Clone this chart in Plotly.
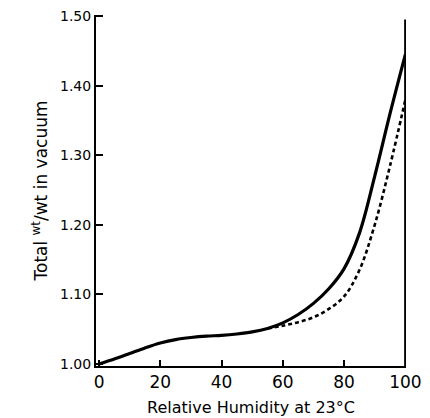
import plotly.graph_objects as go

# Relative humidity (%)
rh_solid = [0, 5, 10, 15, 20, 25, 30, 35, 40, 45, 50, 55, 60, 65, 70, 75, 80, 85, 90, 95, 100]
wt_solid = [1.000, 1.007, 1.015, 1.023, 1.030, 1.035, 1.038, 1.040, 1.041, 1.043, 1.046, 1.051,
            1.059, 1.071, 1.087, 1.108, 1.137, 1.188, 1.270, 1.360, 1.445]

rh_dash = [55, 60, 65, 70, 75, 80, 85, 90, 95, 100]
wt_dash = [1.051, 1.055, 1.060, 1.067, 1.079, 1.097, 1.135, 1.200, 1.285, 1.380]

x_ticks = [0, 20, 40, 60, 80, 100]
y_ticks = [1.00, 1.10, 1.20, 1.30, 1.40, 1.50]
y_ticklabels = ["1.00", "1.10", "1.20", "1.30", "1.40", "1.50"]

FONT = "DejaVu Sans"

fig = go.Figure()
fig.add_trace(go.Scatter(x=rh_solid, y=wt_solid, mode="lines",
                         line=dict(color="black", width=3.2, shape="spline", smoothing=1.0),
                         showlegend=False, hoverinfo="skip"))
fig.add_trace(go.Scatter(x=rh_dash, y=wt_dash, mode="lines",
                         line=dict(color="black", width=2.6, dash="4px,3px", shape="spline", smoothing=1.0),
                         showlegend=False, hoverinfo="skip"))

# right border line at 100 %
fig.add_shape(type="line", x0=100, x1=100, y0=0.997, y1=1.495, xref="x", yref="y",
              line=dict(color="black", width=2.5))

fig.update_layout(
    width=422, height=410,
    margin=dict(l=88, r=24, t=7, b=52),
    paper_bgcolor="white", plot_bgcolor="white",
    font=dict(family=FONT, color="black", size=14),
    xaxis=dict(range=[-1, 100.2], tickvals=x_ticks, ticks="inside", ticklen=6, tickwidth=1.5,
               tickcolor="black", showline=True, linecolor="black", linewidth=2, showgrid=False,
               zeroline=False, automargin=False, ticklabeloverflow="allow",
               tickfont=dict(size=17, family=FONT),
               title=dict(text="Relative Humidity at 23°C", font=dict(size=16, family=FONT), standoff=10)),
    yaxis=dict(range=[0.997, 1.5015], tickvals=y_ticks, ticktext=y_ticklabels, ticks="inside", ticklen=7,
               tickwidth=1.5, tickcolor="black", showline=True, linecolor="black", linewidth=2,
               showgrid=False, zeroline=False, automargin=False, ticklabeloverflow="allow",
               tickfont=dict(size=14, family=FONT),
               title=dict(text="Total <sup>wt</sup>/wt in vacuum", font=dict(size=17, family=FONT), standoff=8)),
)

fig.write_html("out.html")
